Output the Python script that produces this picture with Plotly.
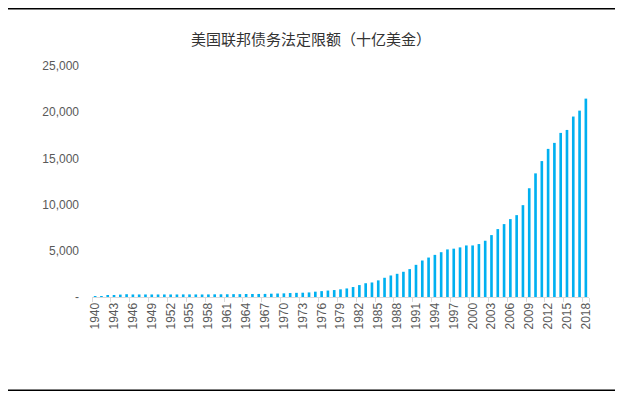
import plotly.graph_objects as go

years = list(range(1940, 2019))
debt_limit = [
    49, 65, 125, 210, 260, 300, 275, 275, 275, 275,
    275, 275, 275, 275, 281, 281, 278, 275, 280, 290,
    293, 298, 308, 309, 324, 328, 330, 336, 358, 377,
    395, 430, 450, 465, 495, 577, 636, 700, 752, 830,
    925, 1079, 1290, 1490, 1573, 1800, 2080, 2330, 2510, 2730,
    3020, 3480, 3950, 4270, 4560, 4850, 5150, 5230, 5370, 5580,
    5580, 5730, 6090, 6700, 7350, 7890, 8430, 8860, 9940, 11770,
    13380, 14710, 16030, 16680, 17760, 18080, 19530, 20170, 21470,
]
x_labels = [str(y) for y in years]
x_tick_labels = [str(y) for y in years[::3]]
y_tick_vals = [0, 5000, 10000, 15000, 20000, 25000]
y_tick_text = ["-", "5,000", "10,000", "15,000", "20,000", "25,000"]
title_text = "美国联邦债务法定限额（十亿美金）"

fig = go.Figure(go.Bar(
    x=x_labels, y=debt_limit,
    marker=dict(color="#00B0F0", line=dict(width=0)),
))

# page has an 8px body margin; figure sized to fit the 623x398 window
W, H = 615, 390
L, R, T, B = 84, 34, 58, 100.5
pw = W - L - R
ph = H - T - B

def py(v):
    return (H - B - v) / ph

fig.update_layout(
    width=W, height=H,
    margin=dict(l=L, r=R, t=T, b=B, autoexpand=False),
    paper_bgcolor="white", plot_bgcolor="white",
    bargap=0.58,
    showlegend=False,
    font=dict(family="Liberation Sans, Arial, sans-serif", color="#595959", size=12),
    title=dict(text=title_text, x=303 / W, xanchor="center", y=1 - 32 / H, yanchor="middle",
               font=dict(family="Noto Sans CJK SC", size=15, color="#333333")),
    xaxis=dict(
        type="category", tickmode="array", tickvals=x_tick_labels, ticktext=x_tick_labels,
        tickangle=-90, tickson="boundaries", ticks="outside", ticklen=4, tickcolor="#d9d9d9",
        showline=True, linecolor="#d9d9d9", linewidth=1, showgrid=False,
        tickfont=dict(size=12, color="#595959"),
    ),
    yaxis=dict(
        range=[0, 25000], tickmode="array", tickvals=y_tick_vals, ticktext=y_tick_text,
        showgrid=False, zeroline=False, showline=False, ticks="", ticklabelstandoff=12,
        tickfont=dict(size=12, color="#595959"),
    ),
    shapes=[
        dict(type="line", xref="paper", yref="paper",
             x0=-L / pw, x1=(W - L) / pw, y0=py(0.75), y1=py(0.75),
             line=dict(color="black", width=1.5)),
        dict(type="line", xref="paper", yref="paper",
             x0=-L / pw, x1=(W - L) / pw, y0=py(383), y1=py(383),
             line=dict(color="black", width=1.5)),
    ],
)

fig.write_html("out.html")
